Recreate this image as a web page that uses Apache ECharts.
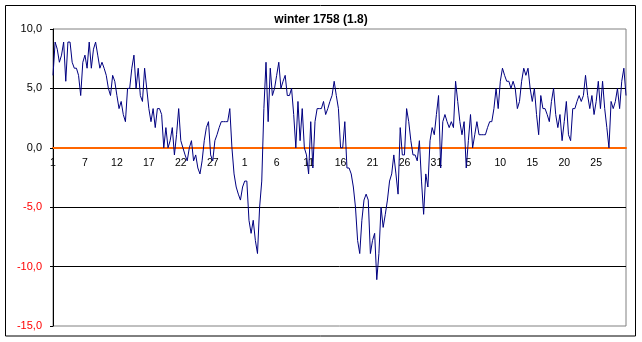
<!DOCTYPE html>
<html><head><meta charset="utf-8">
<script src="https://cdn.jsdelivr.net/npm/echarts@6/dist/echarts.min.js"></script>
<style>html,body{margin:0;padding:0;background:#fff}#c{width:642px;height:342px}</style>
</head><body><div id="c"></div>
<script>
const chartTitle = 'winter 1758 (1.8)';
const xTickLabels = ['1','7','12','17','22','27','1','6','11','16','21','26','31','5','10','15','20','25'];
const readingsPerTick = 15;
const yTicks = [-15, -10, -5, 0, 5, 10];
const temps = [
  6.1, 8.9, 8.3, 7.2, 7.8, 8.9, 5.6, 8.9, 8.9, 7.2,
  6.7, 6.7, 6.1, 4.4, 7.2, 7.8, 6.7, 8.9, 6.7, 8.3,
  8.9, 7.8, 6.7, 7.2, 6.7, 6.1, 5.0, 4.4, 6.1, 5.6,
  4.4, 3.3, 3.9, 2.8, 2.2, 5.0, 5.0, 6.7, 7.8, 5.0,
  6.7, 4.4, 3.9, 6.7, 5.0, 3.3, 2.2, 3.3, 1.7, 3.3,
  3.3, 2.8, 0.0, 1.7, 0.0, 0.6, 1.7, -0.6, 1.1, 3.3,
  0.6, 0.0, -0.6, -1.1, 0.0, 0.6, -1.1, -0.6, -1.7, -2.2,
  -1.1, 0.6, 1.7, 2.2, -0.6, -1.1, 0.6, 1.1, 1.7, 2.2,
  2.2, 2.2, 2.2, 3.3, 0.0, -2.2, -3.3, -3.9, -4.4, -3.3,
  -2.8, -2.8, -6.1, -7.2, -6.1, -7.8, -8.9, -5.0, -2.8, 3.3,
  7.2, 2.2, 6.7, 4.4, 5.0, 6.1, 7.2, 5.0, 5.6, 6.1,
  4.4, 4.4, 5.0, 2.8, 0.0, 3.9, 0.6, 3.3, 0.0, -0.6,
  -2.2, 2.2, -1.7, 2.2, 3.3, 3.3, 3.3, 3.9, 2.8, 3.3,
  3.9, 4.4, 5.6, 4.4, 3.3, 0.0, 0.0, 2.2, -1.7, -1.7,
  -2.2, -3.3, -5.0, -7.8, -8.9, -6.1, -4.4, -3.9, -4.4, -8.9,
  -7.8, -7.2, -11.1, -8.9, -5.0, -6.7, -5.6, -4.4, -2.8, -2.2,
  -0.6, -2.2, -3.9, 1.7, -0.6, -0.6, 3.3, 2.2, 0.6, -0.6,
  -0.6, -1.1, 0.6, -2.8, -5.6, -2.2, -3.3, 0.6, 1.7, 1.1,
  2.8, 4.4, -1.7, 2.2, 2.8, 2.2, 1.7, 2.2, 1.7, 5.6,
  3.9, 2.2, 1.1, 2.2, -1.7, 0.6, 2.8, 0.0, 1.1, 2.2,
  1.1, 1.1, 1.1, 1.1, 1.7, 2.2, 2.2, 3.3, 5.0, 3.3,
  5.6, 6.7, 6.1, 5.6, 5.6, 5.0, 5.6, 5.0, 3.3, 3.9,
  5.6, 6.7, 6.1, 6.7, 5.0, 3.9, 5.0, 2.8, 1.1, 4.4,
  3.3, 3.3, 2.8, 2.2, 3.9, 5.0, 2.8, 1.7, 2.8, 0.6,
  2.2, 3.9, 1.1, 0.6, 3.3, 3.3, 3.9, 4.4, 3.9, 4.4,
  6.1, 4.4, 3.3, 4.4, 2.8, 3.9, 5.6, 3.3, 5.6, 3.3,
  1.7, 0.0, 3.9, 3.3, 3.9, 5.0, 3.3, 5.6, 6.7, 4.4
];

const categories = temps.map((_, i) => i);
const chart = echarts.init(document.getElementById('c'), null, {renderer: 'canvas'});
chart.setOption({
  animation: false,
  backgroundColor: '#ffffff',
  title: {
    text: chartTitle, left: 'center', top: 9,
    textStyle: {fontFamily: 'Liberation Sans, Arial', fontSize: 12, fontWeight: 'bold', color: '#000'}
  },
  graphic: [{
    type: 'rect', silent: true, z: -10,
    shape: {x: 5.5, y: 5.5, width: 630, height: 330.5},
    style: {fill: 'none', stroke: '#000', lineWidth: 1}
  }],
  grid: {
    left: 53, right: 16, top: 29, bottom: 16,
    show: true, borderColor: '#808080', borderWidth: 1, backgroundColor: '#fff',
    outerBoundsMode: 'none'
  },
  xAxis: {
    type: 'category', data: categories, boundaryGap: false,
    axisLine: {show: true, onZero: false, lineStyle: {color: '#FF6600', width: 2}},
    axisTick: {show: false},
    splitLine: {show: false},
    axisLabel: {
      interval: readingsPerTick - 1, margin: 10,
      fontFamily: 'Liberation Sans, Arial', fontSize: 10.5, color: '#000',
      formatter: (v, idx) => xTickLabels[Math.round(idx / readingsPerTick)] || ''
    }
  },
  yAxis: {
    type: 'value', min: yTicks[0], max: yTicks[yTicks.length - 1], interval: 5,
    axisLine: {show: true, lineStyle: {color: '#000', width: 1}},
    axisTick: {show: true, length: 3, lineStyle: {color: '#000'}},
    splitLine: {show: true, showMinLine: false, showMaxLine: false, lineStyle: {color: '#000', width: 1}},
    axisLabel: {
      margin: 11, fontFamily: 'Liberation Sans, Arial', fontSize: 11,
      formatter: v => v.toFixed(1).replace('.', ','),
      color: v => (v < 0 ? '#FF0000' : '#000000')
    }
  },
  series: [{
    type: 'line', data: temps, showSymbol: false, symbol: 'none',
    lineStyle: {color: '#000080', width: 1}, z: 3
  }]
});
// Move the category axis (line + labels) onto the value 0 of the y scale
const yZero = chart.convertToPixel({yAxisIndex: 0}, 0);
const yBottom = chart.convertToPixel({yAxisIndex: 0}, yTicks[0]);
chart.setOption({xAxis: {offset: -(yBottom - yZero)}});
</script>
</body></html>
